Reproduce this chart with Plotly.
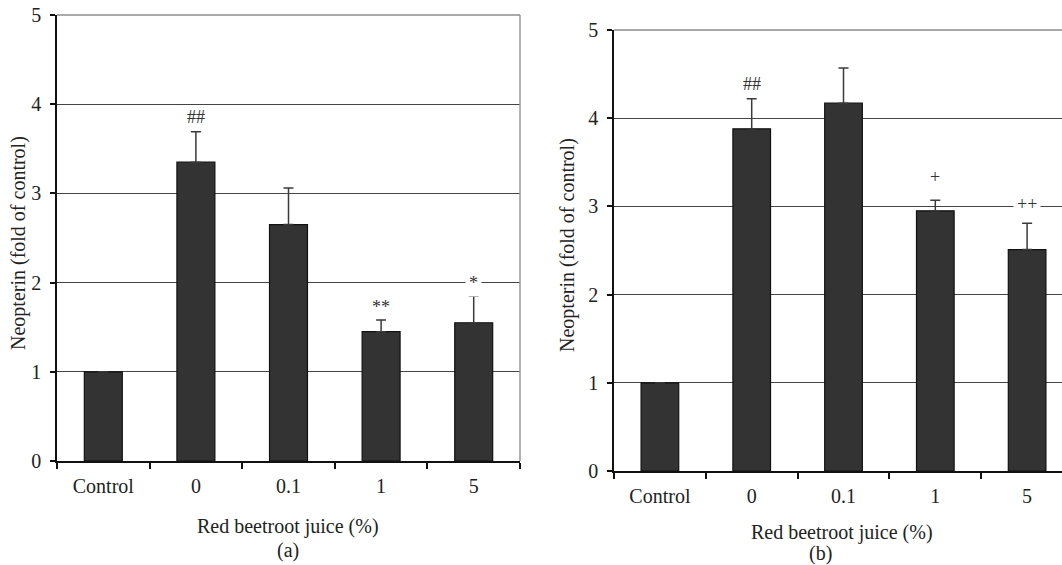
import plotly.graph_objects as go

# ---- data ----
categories = ["Control", "0", "0.1", "1", "5"]
mean_a = [1.00, 3.35, 2.65, 1.45, 1.55]
err_a = [0.00, 0.34, 0.41, 0.13, 0.30]
sig_a = ["", "##", "", "**", "*"]

mean_b = [1.00, 3.88, 4.17, 2.95, 2.51]
err_b = [0.00, 0.34, 0.40, 0.12, 0.30]
sig_b = ["", "##", "", "+", "++"]

y_ticks = [0, 1, 2, 3, 4, 5]
x_title = "Red beetroot juice (%)"
y_title = "Neopterin (fold of control)"
panel_labels = ["(a)", "(b)"]

# ---- style ----
FONT = "Liberation Serif"
TXT = "#222222"
BAR = "#333333"
GRID = "#444444"
W, H = 1062, 565
SIG_SHIFT = {"##": 1, "**": -1, "*": -1, "+": 9, "++": 5}

fig = go.Figure()

def add_panel(means, errs, xa, ya):
    fig.add_trace(go.Bar(
        x=categories, y=means, xaxis=xa, yaxis=ya,
        width=0.41,
        marker=dict(color=BAR, line=dict(color="#111111", width=1.2)),
        error_y=dict(type="data", symmetric=False, array=errs,
                     arrayminus=[0] * len(errs), color="#3a3a3a",
                     thickness=1.5, width=5),
        showlegend=False, hoverinfo="x+y",
    ))

add_panel(mean_a, err_a, "x", "y")
add_panel(mean_b, err_b, "x2", "y2")

def xaxis(domain, rng, anchor):
    return dict(domain=domain, range=rng, anchor=anchor, type="category",
                categoryorder="array", categoryarray=categories,
                automargin=False,
                showline=True, linecolor="#111111", linewidth=1.5,
                ticks="outside", tickson="boundaries", ticklen=6,
                tickcolor="#111111", tickwidth=1.5, showgrid=False,
                ticklabelstandoff=6,
                tickfont=dict(family=FONT, size=20, color=TXT))

def yaxis(domain, anchor):
    return dict(domain=domain, range=[0, 5], anchor=anchor,
                automargin=False,
                tickvals=y_ticks, showline=True, linecolor="#111111",
                linewidth=1.5, ticks="outside", ticklen=5,
                tickcolor="#111111", tickwidth=1.5,
                showgrid=True, gridcolor=GRID, gridwidth=1.4,
                zeroline=False, ticklabelstandoff=5,
                tickfont=dict(family=FONT, size=20, color=TXT))

fig.update_layout(
    width=W, height=H,
    margin=dict(l=0, r=0, t=0, b=0, autoexpand=False),
    paper_bgcolor="white", plot_bgcolor="white",
    font=dict(family=FONT, color=TXT),
    xaxis=xaxis([57 / W, 520 / W], [-0.5, 4.5], "y"),
    yaxis=yaxis([(H - 461) / H, (H - 15) / H], "x"),
    xaxis2=xaxis([614 / W, 1.0], [-0.5, 4.38], "y2"),
    yaxis2=yaxis([(H - 471) / H, (H - 30) / H], "x2"),
)

# top borders lighter and right border of panel (a)
fig.add_shape(type="line", xref="x domain", yref="y domain", x0=0, x1=1, y0=1, y1=1,
              line=dict(color="#8c8c8c", width=1.5))
fig.add_shape(type="line", xref="x domain", yref="y domain", x0=1, x1=1, y0=0, y1=1,
              line=dict(color="#9a9a9a", width=1.5))
fig.add_shape(type="line", xref="x2 domain", yref="y2 domain", x0=0, x1=1, y0=1, y1=1,
              line=dict(color="#8c8c8c", width=1.5))

# significance marks
def add_sig(means, errs, sigs, xa, ya):
    for i, (m, e, s) in enumerate(zip(means, errs, sigs)):
        if not s:
            continue
        fig.add_annotation(x=i, y=m + e, xref=xa, yref=ya, text=s,
                           showarrow=False, yanchor="bottom",
                           yshift=SIG_SHIFT.get(s, 2),
                           bgcolor="white" if s in ("*", "++") else "rgba(0,0,0,0)",
                           borderpad=3,
                           font=dict(family=FONT, size=18, color="#333333"))

add_sig(mean_a, err_a, sig_a, "x", "y")
add_sig(mean_b, err_b, sig_b, "x2", "y2")

# axis titles and panel labels
def txt(x, y, s, angle=0):
    fig.add_annotation(x=x / W, y=(H - y) / H, xref="paper", yref="paper",
                       text=s, showarrow=False, textangle=angle,
                       xanchor="center", yanchor="middle",
                       font=dict(family=FONT, size=20, color=TXT))

txt(18, 243, y_title, -90)
txt(567, 245, y_title, -90)
txt(288, 526, x_title)
txt(842, 532, x_title)
txt(288, 550, panel_labels[0])
txt(820, 553, panel_labels[1])

fig.write_html("out.html", config={"displayModeBar": False},
               post_script="document.body.style.margin='0px';document.body.style.overflow='hidden';")
